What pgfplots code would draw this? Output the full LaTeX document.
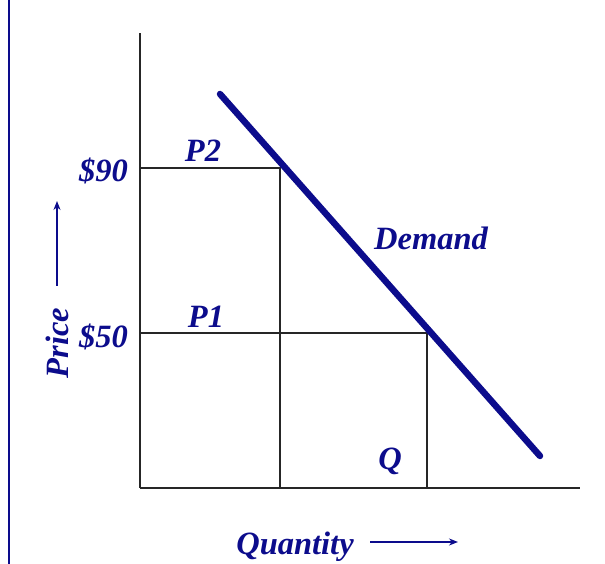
\documentclass[border=0pt]{standalone}
\usepackage{fontspec}
\setmainfont{Liberation Serif}
\usepackage{pgfplots}
\pgfplotsset{compat=1.18}
\usetikzlibrary{arrows.meta}
\definecolor{navy}{RGB}{12,12,140}
\tikzset{lab/.style={font=\fontsize{32.5}{38}\selectfont\bfseries\itshape, text=navy, inner sep=0pt}}
\begin{document}
\begin{tikzpicture}[x=1pt,y=1pt]
\begin{axis}[
  scale only axis,
  width=440pt, height=455pt,
  xmin=0, xmax=440, ymin=0, ymax=455,
  axis x line=bottom, axis y line=left,
  axis line style={-, line width=1.6pt, color=black!85},
  ticks=none,
  clip=false,
]
% guide lines
\addplot[black!85, line width=1.4pt] coordinates {(0,320) (140,320) (140,0)};
\addplot[black!85, line width=1.4pt] coordinates {(0,155) (287,155) (287,0)};
% demand
\addplot[navy, line width=6.5pt, line cap=round] coordinates {(80,394) (400,32)};
% labels
\node[lab, anchor=east] at (axis cs:-12,317) {\$90};
\node[lab, anchor=east] at (axis cs:-12,151) {\$50};
\node[lab] at (axis cs:63,337) {P2};
\node[lab] at (axis cs:66,171) {P1};
\node[lab] at (axis cs:250,27) {Q};
\node[lab] at (axis cs:291,250) {Demand};
\node[lab, rotate=90] at (axis cs:-83,145) {Price};
\node[lab] at (axis cs:155,-59) {Quantity};
\draw[navy, line width=1.6pt, -{Stealth[length=9pt,width=7pt]}] (axis cs:-83,202) -- (axis cs:-83,287);
\draw[navy, line width=1.6pt, -{Stealth[length=9pt,width=7pt]}] (axis cs:230,-54) -- (axis cs:318,-54);
\draw[navy, line width=2pt] (axis cs:-130.5,488) -- (axis cs:-130.5,-76);
\coordinate (bl) at (axis cs:-140,-76);
\coordinate (tr) at (axis cs:465,488);
\end{axis}
\pgfresetboundingbox
\path[use as bounding box] (bl) rectangle (tr);
\end{tikzpicture}
\end{document}
